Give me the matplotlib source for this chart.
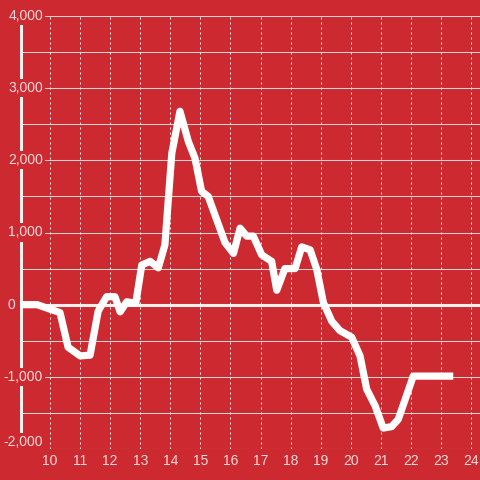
import matplotlib
matplotlib.use('Agg')
import matplotlib.pyplot as plt
import matplotlib.transforms as mtransforms

# Data
hours = [9.0, 9.57, 10.33, 10.6, 11.0, 11.33, 11.6, 11.88, 12.16, 12.33,
         12.55, 12.85, 13.05, 13.33, 13.6, 13.82, 14.05, 14.32, 14.6, 14.82,
         15.04, 15.26, 15.54, 15.82, 16.1, 16.32, 16.54, 16.76, 17.04, 17.37,
         17.54, 17.81, 18.15, 18.37, 18.65, 18.87, 19.09, 19.37, 19.64, 20.03,
         20.31, 20.53, 20.81, 21.08, 21.36, 21.58, 22.08, 23.41]
values = [0, 0, -110, -590, -710, -700, -90, 110, 110, -100,
          40, 20, 550, 600, 510, 830, 2100, 2680, 2260, 2030,
          1570, 1500, 1180, 860, 710, 1060, 950, 950, 690, 600,
          200, 500, 500, 800, 760, 490, 30, -230, -360, -450,
          -710, -1170, -1400, -1710, -1690, -1590, -990, -990]
x_ticks = list(range(10, 25))
y_ticks = [4000, 3000, 2000, 1000, 0, -1000, -2000]
y_labels = ['4,000', '3,000', '2,000', '1,000', '0', '-1,000', '-2,000']

bg = '#cc2a30'
txt = '#f3dada'

plt.rcParams['font.family'] = ['Liberation Sans', 'DejaVu Sans']

fig = plt.figure(figsize=(4.8, 4.8), dpi=100, facecolor=bg)
ax = fig.add_axes([20 / 480, 31 / 480, 460 / 480, 433 / 480], facecolor=bg)
ax.set_xlim(9.0, 10 + 430 / 30.07)
ax.set_ylim(-2000, 4000)

for s in ax.spines.values():
    s.set_visible(False)
ax.set_xticks([])
ax.set_yticks([])

# horizontal grid every 500
for v in range(-2000, 4001, 500):
    ax.axhline(v, color='#d4d4d4', lw=0.75, zorder=1)
# vertical dotted grid
for h in x_ticks:
    ax.axvline(h, color='#f0f0f0', lw=0.72, ls=(0, (2, 3)), zorder=1)

# left axis line and zero line
ax.axvline(9.0 + 1.5 / 30.07, color='#f4f0f0', lw=2.2, zorder=2)
ax.axhline(0, color='#f4f0f0', lw=2.2, zorder=2)

ax.plot(hours, values, color='white', lw=5.2, solid_joinstyle='round',
        solid_capstyle='butt', zorder=3)

# y labels drawn inside the plot with red boxes
trans = mtransforms.blended_transform_factory(fig.transFigure, ax.transData)
for v, lab in zip(y_ticks, y_labels):
    xr = 43 / 480 if lab != '0' else 15 / 480
    yv = v if v != -2000 else -1905
    ax.text(xr, yv, lab, transform=trans, ha='right', va='center',
            fontsize=10, color=txt, zorder=5,
            bbox=dict(facecolor=bg, edgecolor='none', pad=1.5))

for h in x_ticks:
    ax.text(h, -2000, str(h), transform=ax.transData, ha='center', va='top',
            fontsize=10, color=txt, zorder=5, clip_on=False)
    # offset x labels downwards
for t in ax.texts[len(y_ticks):]:
    t.set_transform(ax.transData + mtransforms.ScaledTranslation(0, -5 / 100, fig.dpi_scale_trans))

fig.savefig('out.png', dpi=100, facecolor=bg)
